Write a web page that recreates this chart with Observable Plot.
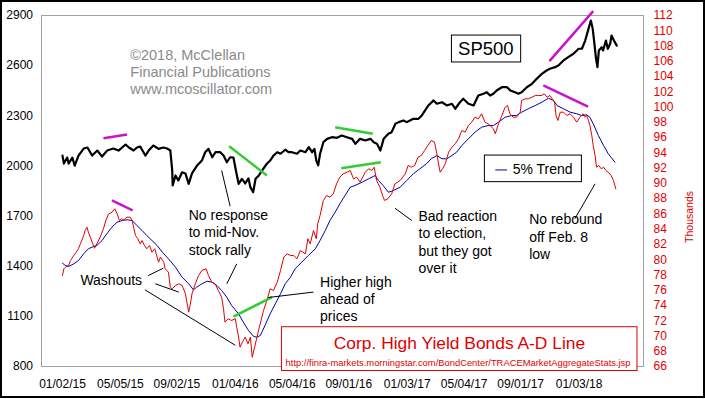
<!DOCTYPE html>
<html><head><meta charset="utf-8">
<script src="https://cdn.jsdelivr.net/npm/d3@7"></script>
<script src="https://cdn.jsdelivr.net/npm/@observablehq/plot@0.6"></script>
<style>
body{margin:0;background:#fff;}
#wrap{position:relative;width:705px;height:399px;overflow:hidden;}
#border{position:absolute;left:0;top:0;width:705px;height:398px;box-sizing:border-box;border:2px solid #000;pointer-events:none;}
</style></head><body><div id="wrap"><div id="border"></div></div>
<script>
// ---- Data ----
const xTicks = ["2015-01-02","2015-05-05","2015-09-02","2016-01-04","2016-05-04","2016-09-01","2017-01-03","2017-05-04","2017-09-01","2018-01-03"];
const leftTicks = [800,1100,1400,1700,2000,2300,2600,2900];
const rightTicks = [66,68,70,72,74,76,78,80,82,84,86,88,90,92,94,96,98,100,102,104,106,108,110,112];

// SP500 (left axis)
const sp500 = [["2015-01-02",2062],["2015-01-05",2014],["2015-01-12",2050],["2015-01-15",2014],["2015-01-23",2050],["2015-01-28",2002],["2015-02-05",2062],["2015-02-16",2104],["2015-02-24",2110],["2015-03-06",2062],["2015-03-17",2092],["2015-03-27",2056],["2015-04-07",2092],["2015-04-20",2104],["2015-05-01",2092],["2015-05-16",2128],["2015-05-23",2110],["2015-06-02",2092],["2015-06-09",2110],["2015-06-16",2116],["2015-06-27",2062],["2015-07-04",2092],["2015-07-14",2122],["2015-07-25",2102],["2015-08-04",2110],["2015-08-12",2104],["2015-08-19",2092],["2015-08-23",1973],["2015-08-24",1883],["2015-08-30",1943],["2015-09-05",1913],["2015-09-13",1962],["2015-09-20",1955],["2015-09-27",1893],["2015-10-04",1955],["2015-10-15",2003],["2015-10-25",2032],["2015-11-01",2082],["2015-11-08",2102],["2015-11-16",2052],["2015-11-23",2082],["2015-12-03",2082],["2015-12-10",2062],["2015-12-17",2022],["2015-12-24",2052],["2015-12-31",2050],["2016-01-06",1962],["2016-01-11",1893],["2016-01-18",1923],["2016-01-25",1895],["2016-02-01",1925],["2016-02-05",1873],["2016-02-11",1843],["2016-02-16",1923],["2016-02-23",1943],["2016-03-01",1973],["2016-03-11",2013],["2016-03-18",2032],["2016-03-25",2062],["2016-04-02",2082],["2016-04-09",2073],["2016-04-19",2097],["2016-04-26",2082],["2016-05-03",2082],["2016-05-14",2073],["2016-05-21",2092],["2016-06-01",2082],["2016-06-08",2112],["2016-06-15",2082],["2016-06-20",2102],["2016-06-24",2032],["2016-06-28",2003],["2016-07-02",2073],["2016-07-09",2142],["2016-07-17",2162],["2016-07-27",2172],["2016-08-07",2168],["2016-08-17",2182],["2016-08-28",2172],["2016-09-08",2162],["2016-09-15",2132],["2016-09-25",2162],["2016-10-06",2152],["2016-10-17",2162],["2016-10-24",2142],["2016-10-31",2132],["2016-11-07",2092],["2016-11-14",2162],["2016-11-24",2192],["2016-12-01",2202],["2016-12-09",2252],["2016-12-16",2262],["2016-12-26",2272],["2017-01-02",2262],["2017-01-09",2272],["2017-01-16",2282],["2017-01-27",2282],["2017-02-03",2302],["2017-02-10",2332],["2017-02-17",2362],["2017-02-28",2392],["2017-03-07",2372],["2017-03-18",2381],["2017-03-28",2362],["2017-04-08",2372],["2017-04-15",2342],["2017-04-25",2381],["2017-05-02",2402],["2017-05-13",2372],["2017-05-24",2362],["2017-06-03",2421],["2017-06-14",2432],["2017-06-21",2441],["2017-06-28",2421],["2017-07-05",2432],["2017-07-12",2451],["2017-07-23",2471],["2017-08-03",2471],["2017-08-10",2451],["2017-08-20",2441],["2017-08-27",2432],["2017-09-03",2441],["2017-09-14",2471],["2017-09-25",2491],["2017-10-05",2521],["2017-10-16",2551],["2017-10-26",2571],["2017-11-02",2581],["2017-11-13",2591],["2017-11-20",2601],["2017-12-01",2631],["2017-12-11",2651],["2017-12-22",2671],["2018-01-02",2701],["2018-01-09",2701],["2018-01-16",2750],["2018-01-23",2820],["2018-01-28",2870],["2018-02-01",2820],["2018-02-05",2720],["2018-02-08",2641],["2018-02-11",2591],["2018-02-14",2691],["2018-02-20",2710],["2018-02-23",2691],["2018-03-01",2750],["2018-03-05",2701],["2018-03-10",2731],["2018-03-13",2780],["2018-03-18",2750],["2018-03-24",2720]];

// Corp. High Yield Bonds A-D line (right axis, thousands)
const adLine = [["2015-01-02",77.93],["2015-01-05",78.81],["2015-01-08",79.01],["2015-01-15",79.24],["2015-01-19",79.89],["2015-01-26",80.55],["2015-01-31",80.98],["2015-02-05",81.43],["2015-02-09",82.08],["2015-02-12",82.51],["2015-02-16",83.17],["2015-02-19",83.82],["2015-02-23",84.26],["2015-02-26",83.60],["2015-03-02",82.95],["2015-03-06",82.29],["2015-03-11",81.50],["2015-03-16",82.08],["2015-03-23",82.95],["2015-03-30",84.05],["2015-04-04",85.13],["2015-04-10",86.01],["2015-04-17",86.22],["2015-04-23",86.67],["2015-04-28",86.01],["2015-05-03",85.13],["2015-05-07",85.36],["2015-05-12",85.23],["2015-05-19",85.57],["2015-05-26",85.57],["2015-05-30",85.13],["2015-06-02",84.26],["2015-06-06",83.17],["2015-06-11",82.74],["2015-06-16",82.08],["2015-06-20",82.51],["2015-06-25",81.86],["2015-06-30",81.43],["2015-07-06",81.86],["2015-07-11",80.98],["2015-07-17",81.43],["2015-07-22",80.33],["2015-07-25",79.67],["2015-07-29",80.33],["2015-08-05",79.67],["2015-08-08",78.81],["2015-08-15",78.36],["2015-08-19",76.39],["2015-08-23",76.18],["2015-08-30",76.62],["2015-09-06",76.84],["2015-09-13",76.62],["2015-09-20",75.53],["2015-09-27",73.12],["2015-09-30",74.00],["2015-10-04",75.53],["2015-10-11",76.84],["2015-10-18",77.93],["2015-10-25",78.58],["2015-11-03",78.81],["2015-11-08",77.93],["2015-11-15",77.05],["2015-11-22",76.84],["2015-11-29",75.96],["2015-12-06",75.08],["2015-12-10",73.56],["2015-12-13",71.81],["2015-12-20",72.25],["2015-12-27",72.03],["2016-01-04",72.25],["2016-01-07",71.15],["2016-01-11",69.84],["2016-01-14",68.53],["2016-01-19",69.19],["2016-01-25",69.84],["2016-01-31",68.98],["2016-02-05",69.84],["2016-02-09",67.22],["2016-02-14",68.53],["2016-02-19",69.84],["2016-02-24",71.15],["2016-03-04",73.34],["2016-03-11",74.65],["2016-03-18",76.18],["2016-03-25",75.96],["2016-04-02",77.05],["2016-04-09",78.58],["2016-04-16",80.33],["2016-04-23",80.77],["2016-04-30",80.55],["2016-05-07",80.55],["2016-05-14",80.12],["2016-05-21",81.20],["2016-06-01",80.77],["2016-06-06",82.74],["2016-06-11",82.08],["2016-06-18",83.82],["2016-06-24",82.74],["2016-06-27",84.70],["2016-07-02",85.79],["2016-07-09",87.76],["2016-07-16",88.41],["2016-07-23",88.19],["2016-07-30",88.63],["2016-08-06",89.94],["2016-08-13",90.81],["2016-08-20",91.25],["2016-08-28",91.46],["2016-09-04",91.69],["2016-09-11",90.60],["2016-09-18",90.81],["2016-09-25",90.15],["2016-10-06",91.46],["2016-10-13",91.91],["2016-10-20",91.69],["2016-10-25",92.12],["2016-10-30",90.38],["2016-11-06",89.50],["2016-11-13",88.19],["2016-11-16",87.76],["2016-11-23",87.98],["2016-12-01",88.63],["2016-12-08",89.94],["2016-12-19",90.38],["2016-12-30",91.25],["2017-01-05",92.34],["2017-01-12",92.12],["2017-01-19",92.34],["2017-01-26",93.43],["2017-02-02",93.65],["2017-02-09",94.31],["2017-02-16",94.96],["2017-02-23",95.62],["2017-03-02",95.40],["2017-03-07",93.88],["2017-03-10",92.78],["2017-03-14",91.46],["2017-03-19",91.91],["2017-03-25",92.57],["2017-04-01",94.09],["2017-04-08",94.74],["2017-04-15",95.19],["2017-04-22",95.84],["2017-04-29",96.93],["2017-05-06",96.71],["2017-05-13",97.58],["2017-05-20",98.02],["2017-05-27",98.67],["2017-06-03",98.46],["2017-06-10",99.12],["2017-06-17",98.02],["2017-06-24",97.81],["2017-06-28",97.58],["2017-07-05",97.15],["2017-07-09",96.50],["2017-07-16",97.81],["2017-07-23",98.89],["2017-07-30",99.98],["2017-08-04",100.21],["2017-08-09",99.12],["2017-08-16",98.67],["2017-08-23",98.67],["2017-08-31",99.33],["2017-09-03",100.86],["2017-09-10",101.08],["2017-09-17",101.08],["2017-09-25",101.29],["2017-10-02",101.52],["2017-10-09",101.52],["2017-10-16",101.52],["2017-10-21",101.74],["2017-10-27",101.29],["2017-11-02",101.52],["2017-11-06",101.16],["2017-11-12",100.64],["2017-11-15",98.89],["2017-11-19",98.24],["2017-11-24",99.33],["2017-12-01",99.33],["2017-12-08",98.89],["2017-12-15",99.12],["2017-12-22",98.67],["2017-12-29",98.02],["2018-01-05",98.67],["2018-01-12",99.12],["2018-01-16",98.67],["2018-01-19",98.89],["2018-01-23",98.24],["2018-01-26",97.58],["2018-01-30",96.27],["2018-02-02",94.96],["2018-02-06",93.65],["2018-02-09",92.12],["2018-02-14",92.34],["2018-02-19",91.91],["2018-02-24",92.12],["2018-03-01",91.69],["2018-03-06",91.46],["2018-03-12",91.03],["2018-03-17",90.38],["2018-03-22",89.29]];

// 5% Trend of the A-D line (right axis, thousands)
const trend = [["2015-01-02",79.54],["2015-01-08",79.24],["2015-01-15",79.11],["2015-01-26",79.46],["2015-02-05",79.89],["2015-02-16",80.77],["2015-02-26",81.43],["2015-03-09",81.73],["2015-03-16",81.86],["2015-03-27",82.51],["2015-04-06",83.39],["2015-04-17",84.26],["2015-04-28",84.91],["2015-05-09",85.13],["2015-05-19",85.23],["2015-05-30",85.13],["2015-06-09",84.48],["2015-06-20",83.82],["2015-06-30",83.17],["2015-07-11",82.51],["2015-07-22",81.86],["2015-08-02",80.98],["2015-08-15",80.12],["2015-08-30",79.01],["2015-09-13",77.70],["2015-09-27",76.84],["2015-10-07",76.05],["2015-10-14",76.39],["2015-10-25",76.84],["2015-11-05",77.18],["2015-11-15",77.05],["2015-11-26",76.62],["2015-12-06",75.96],["2015-12-17",75.08],["2015-12-27",74.00],["2016-01-11",72.91],["2016-01-21",71.81],["2016-02-01",70.72],["2016-02-12",69.93],["2016-02-19",69.84],["2016-02-26",70.06],["2016-03-07",71.37],["2016-03-18",72.91],["2016-03-29",74.22],["2016-04-09",75.53],["2016-04-19",76.84],["2016-04-30",77.70],["2016-05-10",78.81],["2016-05-24",79.67],["2016-06-07",80.55],["2016-06-22",81.43],["2016-07-02",82.51],["2016-07-13",83.82],["2016-07-23",85.13],["2016-08-03",86.22],["2016-08-13",87.32],["2016-08-24",88.41],["2016-09-04",89.50],["2016-09-14",89.72],["2016-09-29",90.15],["2016-10-13",90.60],["2016-10-27",91.03],["2016-11-03",90.38],["2016-11-13",89.72],["2016-11-24",88.84],["2016-12-05",89.07],["2016-12-19",89.50],["2017-01-02",90.38],["2017-01-16",91.25],["2017-01-30",91.91],["2017-02-13",92.57],["2017-02-23",93.22],["2017-03-07",93.65],["2017-03-18",93.22],["2017-03-28",93.22],["2017-04-08",93.65],["2017-04-18",94.09],["2017-04-29",94.96],["2017-05-13",95.84],["2017-05-27",96.71],["2017-06-10",97.36],["2017-06-24",97.58],["2017-07-05",97.58],["2017-07-16",98.02],["2017-07-30",98.67],["2017-08-13",98.89],["2017-08-23",98.89],["2017-09-03",99.33],["2017-09-17",99.77],["2017-10-02",100.21],["2017-10-16",100.64],["2017-10-30",101.16],["2017-11-10",100.86],["2017-11-17",100.21],["2017-12-01",99.77],["2017-12-15",99.33],["2017-12-29",99.12],["2018-01-09",98.89],["2018-01-19",98.99],["2018-01-26",98.67],["2018-02-02",97.81],["2018-02-13",96.27],["2018-02-24",94.96],["2018-03-06",93.88],["2018-03-20",92.78]];

// Highlight segments: [date1, value1, date2, value2, axis]  (L = SP500 axis, R = thousands axis)
const magentaSegments = [["2015-03-30",2166,"2015-05-19",2188,"L"],["2015-04-17",87.76,"2015-05-31",86.45,"R"],["2017-11-01",2627,"2018-02-02",2926,"L"],["2017-10-19",102.83,"2018-01-22",100.07,"R"]];
const greenSegments = [["2015-12-22",2118,"2016-03-11",1943,"L"],["2015-12-31",72.55,"2016-03-22",75.08,"R"],["2016-08-03",2232,"2016-10-22",2192,"L"],["2016-08-16",91.99,"2016-11-08",92.78,"R"]];
const pointerLines = [["2015-07-03",1344,"2015-08-04",1388,"L"],["2015-07-18",1295,"2015-09-06",1245,"L"],["2015-06-26",1259,"2016-01-04",927,"L"],["2015-12-06",1973,"2015-12-24",1759,"L"],["2015-12-17",1295,"2016-01-07",1414,"L"],["2016-03-14",1213,"2016-06-18",1245,"L"],["2016-12-08",1747,"2017-01-13",1673,"L"],["2018-02-06",1893,"2017-12-25",1684,"L"]];

const noteTexts = ["Washouts","No response\nto mid-Nov.\nstock rally","Higher high\nahead of\nprices","Bad reaction\nto election,\nbut they got\nover it","No rebound\noff Feb. 8\nlow"];
const noteDates = ["2015-02-09","2015-09-27","2016-07-02","2017-01-27","2017-09-19"];
const noteValues = [1320,1606,1207,1548,1580];

const copyrightText = "©2018, McClellan\nFinancial Publications\nwww.mcoscillator.com";
const titleText = "Corp. High Yield Bonds A-D Line";
const sourceText = "http://finra-markets.morningstar.com/BondCenter/TRACEMarketAggregateStats.jsp";
const seriesName = "SP500";
const trendName = "5% Trend";
const rightAxisName = "Thousands";

// ---- Build ----
const parse = d3.utcParse("%Y-%m-%d");
const toLeft = v => 800 + (v - 66) * 2100 / 46;
const fromLeft = y => 66 + (y - 800) * 46 / 2100;
const rows = (arr, conv = v => v) => arr.map(([d, v]) => ({date: parse(d), value: conv(v)}));
const segs = arr => arr.map(([d1, v1, d2, v2, ax]) => {
  const c = ax === "R" ? toLeft : (v => v);
  return {x1: parse(d1), y1: c(v1), x2: parse(d2), y2: c(v2)};
});
const notes = noteTexts.map((t, i) => ({text: t, date: parse(noteDates[i]), value: noteValues[i]}));

const red = "#e00000";
const chart = Plot.plot({
  width: 705, height: 399,
  marginLeft: 41, marginRight: 62, marginTop: 15, marginBottom: 33,
  style: {fontFamily: "'Liberation Sans', Arial, sans-serif", fontSize: "12px", background: "transparent", overflow: "visible"},
  x: {type: "utc", domain: [new Date(Date.UTC(2014, 10, 18, 10, 30)), new Date(Date.UTC(2018, 4, 19, 19))]},
  y: {domain: [800, 2900]},
  marks: [
    Plot.frame({stroke: "#a0a0a0"}),
    Plot.axisX({ticks: xTicks.map(parse), tickFormat: d3.utcFormat("%m/%d/%y"), tickSize: 0, tickPadding: 13, label: null, fontSize: 12}),
    Plot.axisY({ticks: leftTicks, tickFormat: d => String(d), tickSize: 0, tickPadding: 8.5, label: null, fontSize: 12}),
    Plot.axisY({anchor: "right", ticks: rightTicks.map(toLeft), tickFormat: d => String(Math.round(fromLeft(d))), tickSize: 0, tickPadding: 10, label: null, color: red, fontSize: 12}),
    Plot.text([rightAxisName], {frameAnchor: "right", dx: 46, rotate: -90, fill: red, fontSize: 10.5}),
    Plot.line(rows(trend, toLeft), {x: "date", y: "value", stroke: "#0000a8", strokeWidth: 1}),
    Plot.line(rows(adLine, toLeft), {x: "date", y: "value", stroke: red, strokeWidth: 1}),
    Plot.line(rows(sp500), {x: "date", y: "value", stroke: "#000", strokeWidth: 2.2}),
    Plot.link(segs(magentaSegments), {x1: "x1", y1: "y1", x2: "x2", y2: "y2", stroke: "#c814c8", strokeWidth: 2.5}),
    Plot.link(segs(greenSegments), {x1: "x1", y1: "y1", x2: "x2", y2: "y2", stroke: "#33cc33", strokeWidth: 2.5}),
    Plot.link(segs(pointerLines), {x1: "x1", y1: "y1", x2: "x2", y2: "y2", stroke: "#000", strokeWidth: 1}),
    Plot.text(notes, {x: "date", y: "value", text: "text", textAnchor: "start", fontSize: 14, lineHeight: 1.24, fill: "#000"}),
    Plot.text([copyrightText], {x: () => parse("2015-05-26"), y: () => 2565, textAnchor: "start", fontSize: 14.5, lineHeight: 1.17, fill: "#8a8a8a"}),
    Plot.rect([0], {x1: () => parse("2017-04-08"), x2: () => parse("2017-09-02"), y1: () => 2619, y2: () => 2780, fill: "#fff", stroke: "#000"}),
    Plot.text([seriesName], {x: () => parse("2017-06-19"), y: () => 2700, fontSize: 18.5, fill: "#000"}),
    Plot.rect([0], {x1: () => parse("2017-06-17"), x2: () => parse("2018-01-09"), y1: () => 1903, y2: () => 2062, fill: "#fff", stroke: "#000"}),
    Plot.link([0], {x1: () => parse("2017-07-09"), x2: () => parse("2017-08-03"), y1: () => 1976, y2: () => 1976, stroke: "#0000a8", strokeWidth: 1}),
    Plot.text([trendName], {x: () => parse("2017-08-15"), y: () => 1976, textAnchor: "start", fontSize: 14, fill: "#000"}),
    Plot.rect([0], {x1: () => parse("2016-04-12"), x2: () => parse("2018-05-07"), y1: () => 773, y2: () => 1035, fill: "#fff", stroke: red}),
    Plot.text([titleText], {x: () => parse("2017-04-24"), y: () => 941, fontSize: 17.4, fill: red}),
    Plot.text([sourceText], {x: () => parse("2017-04-21"), y: () => 820, fontSize: 9.4, fill: red})
  ]
});
document.getElementById("wrap").prepend(chart);
</script>
</body></html>
